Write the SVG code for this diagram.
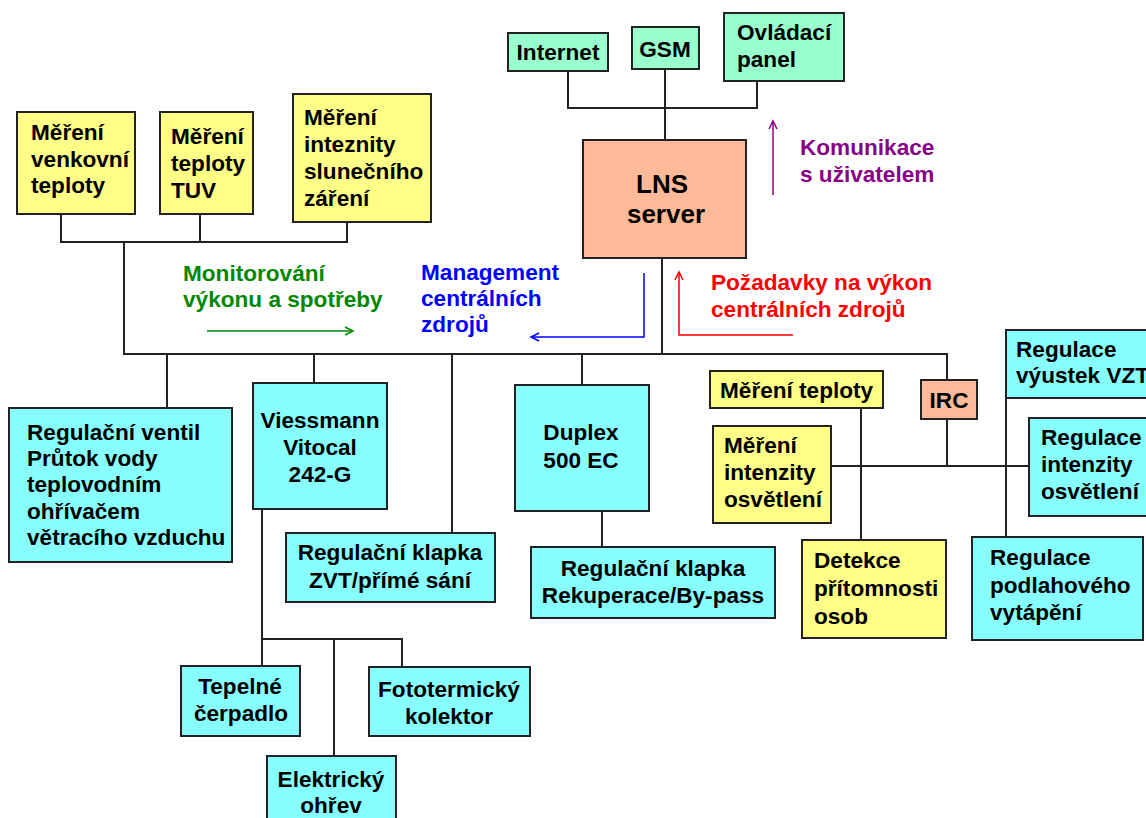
<svg xmlns="http://www.w3.org/2000/svg" width="1146" height="818" viewBox="0 0 1146 818">
<style>
  text { font-family: "Liberation Sans", Arial, sans-serif; font-weight: bold; font-size: 22.6px; fill: #000; }
  .c { text-anchor: middle; }
  .box { stroke: #222; stroke-width: 2; }
  .y { fill: #FFFF88; }
  .cy { fill: #88FFFF; }
  .g { fill: #99FFCC; }
  .o { fill: #FFBB99; }
  .con { fill: none; stroke: #222; stroke-width: 2; }
  .big { font-size: 26px; }
  .tg { fill: #008800; }
  .tb { fill: #0000FF; }
  .tr { fill: #FF0000; }
  .tp { fill: #880088; }
</style>
<defs>
  <marker id="ag" markerUnits="userSpaceOnUse" markerWidth="12" markerHeight="12" refX="9" refY="5" orient="auto"><path d="M1,1 L9,5 L1,9" fill="none" stroke="#008800" stroke-width="1.5"/></marker>
  <marker id="ab" markerUnits="userSpaceOnUse" markerWidth="12" markerHeight="12" refX="9" refY="5" orient="auto"><path d="M1,1 L9,5 L1,9" fill="none" stroke="#0000FF" stroke-width="1.5"/></marker>
  <marker id="ar" markerUnits="userSpaceOnUse" markerWidth="12" markerHeight="12" refX="9" refY="5" orient="auto"><path d="M1,1 L9,5 L1,9" fill="none" stroke="#FF0000" stroke-width="1.5"/></marker>
  <marker id="ap" markerUnits="userSpaceOnUse" markerWidth="12" markerHeight="12" refX="9" refY="5" orient="auto"><path d="M1,1 L9,5 L1,9" fill="none" stroke="#880088" stroke-width="1.5"/></marker>
</defs>
<rect width="1146" height="818" fill="#fff"/>

<g id="connectors">
  <path class="con" d="M568,71 V108 H757 V81"/>
  <path class="con" d="M665,69 V140"/>
  <path class="con" d="M662,258 V354"/>
  <path class="con" d="M61,214 V242 H347 V222"/>
  <path class="con" d="M200,214 V242"/>
  <path class="con" d="M124,242 V354 H947 V380"/>
  <path class="con" d="M167,354 V408"/>
  <path class="con" d="M314,354 V383"/>
  <path class="con" d="M452,354 V533"/>
  <path class="con" d="M582,354 V385"/>
  <path class="con" d="M262,509 V666"/>
  <path class="con" d="M262,639 H402 V667"/>
  <path class="con" d="M334,639 V756"/>
  <path class="con" d="M602,511 V547"/>
  <path class="con" d="M831,466 H1029"/>
  <path class="con" d="M861,408 V540"/>
  <path class="con" d="M947,419 V466"/>
  <path class="con" d="M1006,398 V537"/>
  <path fill="none" stroke="#008800" stroke-width="1.5" d="M207,331 H353" marker-end="url(#ag)"/>
  <path fill="none" stroke="#0000FF" stroke-width="1.5" d="M644,273 V337 H531" marker-end="url(#ab)"/>
  <path fill="none" stroke="#FF0000" stroke-width="1.5" d="M793,335 H679 V272" marker-end="url(#ar)"/>
  <path fill="none" stroke="#880088" stroke-width="1.5" d="M773,195 V121" marker-end="url(#ap)"/>
</g>

<g id="labels">
  <text class="tg" x="183" y="281">Monitorování</text>
  <text class="tg" x="183" y="307">výkonu a spotřeby</text>
  <text class="tb" x="421" y="280">Management</text>
  <text class="tb" x="421" y="306">centrálních</text>
  <text class="tb" x="421" y="332">zdrojů</text>
  <text class="tr" x="711" y="290">Požadavky na výkon</text>
  <text class="tr" x="711" y="317">centrálních zdrojů</text>
  <text class="tp" x="800" y="155">Komunikace</text>
  <text class="tp" x="800" y="182">s uživatelem</text>
</g>

<g id="internet"><rect class="box g" x="508" y="33" width="100" height="38"/><text class="c" x="558" y="60">Internet</text></g>
<g id="gsm"><rect class="box g" x="632" y="27" width="67" height="42"/><text class="c" x="665" y="57">GSM</text></g>
<g id="ovladaci"><rect class="box g" x="724" y="13" width="120" height="68"/><text x="737" y="40">Ovládací</text><text x="737" y="67">panel</text></g>
<g id="lns"><rect class="box o" x="583" y="140" width="163" height="118"/><text class="c big" x="662" y="193">LNS</text><text class="c big" x="666" y="223">server</text></g>

<g id="mereni-venkovni"><rect class="box y" x="17" y="112" width="118" height="102"/><text x="31" y="140">Měření</text><text x="31" y="167">venkovní</text><text x="31" y="193">teploty</text></g>
<g id="mereni-tuv"><rect class="box y" x="160" y="112" width="93" height="102"/><text x="171" y="144">Měření</text><text x="171" y="171">teploty</text><text x="171" y="198">TUV</text></g>
<g id="mereni-slunce"><rect class="box y" x="293" y="94" width="138" height="128"/><text x="304" y="125">Měření</text><text x="304" y="152">inteznity</text><text x="304" y="179">slunečního</text><text x="304" y="206">záření</text></g>

<g id="ventil"><rect class="box cy" x="9" y="408" width="223" height="154"/><text x="27" y="440">Regulační ventil</text><text x="27" y="466">Průtok vody</text><text x="27" y="492">teplovodním</text><text x="27" y="519">ohřívačem</text><text x="27" y="545">větracího vzduchu</text></g>
<g id="viessmann"><rect class="box cy" x="253" y="383" width="134" height="126"/><text class="c" x="320" y="428">Viessmann</text><text class="c" x="320" y="455">Vitocal</text><text class="c" x="320" y="482">242-G</text></g>
<g id="klapka-zvt"><rect class="box cy" x="286" y="533" width="209" height="69"/><text class="c" x="390" y="560">Regulační klapka</text><text class="c" x="390" y="588">ZVT/přímé sání</text></g>
<g id="duplex"><rect class="box cy" x="515" y="385" width="134" height="126"/><text class="c" x="581" y="440">Duplex</text><text class="c" x="581" y="468">500 EC</text></g>
<g id="klapka-rek"><rect class="box cy" x="531" y="547" width="244" height="71"/><text class="c" x="653" y="576">Regulační klapka</text><text class="c" x="653" y="603">Rekuperace/By-pass</text></g>
<g id="tepelne"><rect class="box cy" x="181" y="666" width="119" height="70"/><text class="c" x="240" y="694">Tepelné</text><text class="c" x="241" y="721">čerpadlo</text></g>
<g id="fototermicky"><rect class="box cy" x="369" y="667" width="161" height="69"/><text class="c" x="449" y="697">Fototermický</text><text class="c" x="449" y="724">kolektor</text></g>
<g id="elektricky"><rect class="box cy" x="267" y="756" width="129" height="72"/><text class="c" x="331" y="787">Elektrický</text><text class="c" x="331" y="813">ohřev</text></g>

<g id="mereni-teploty"><rect class="box y" x="710" y="371" width="173" height="37"/><text x="720" y="398">Měření teploty</text></g>
<g id="irc"><rect class="box o" x="921" y="380" width="56" height="39"/><text class="c" x="949" y="408">IRC</text></g>
<g id="mereni-osvetleni"><rect class="box y" x="713" y="426" width="118" height="97"/><text x="724" y="453">Měření</text><text x="724" y="480">intenzity</text><text x="724" y="507">osvětlení</text></g>
<g id="vyustek"><rect class="box cy" x="1006" y="330" width="150" height="68"/><text x="1016" y="357">Regulace</text><text x="1016" y="383">výustek VZT</text></g>
<g id="reg-osvetleni"><rect class="box cy" x="1029" y="418" width="130" height="98"/><text x="1041" y="445">Regulace</text><text x="1041" y="472">intenzity</text><text x="1041" y="499">osvětlení</text></g>
<g id="detekce"><rect class="box y" x="802" y="540" width="144" height="98"/><text x="814" y="568">Detekce</text><text x="814" y="596">přítomnosti</text><text x="814" y="624">osob</text></g>
<g id="podlahove"><rect class="box cy" x="972" y="537" width="171" height="103"/><text x="990" y="565">Regulace</text><text x="990" y="593">podlahového</text><text x="990" y="620">vytápění</text></g>
</svg>
